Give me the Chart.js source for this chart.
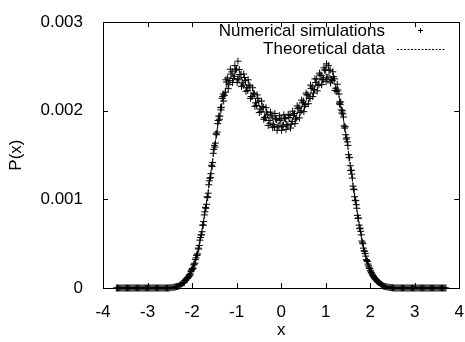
<!DOCTYPE html>
<html>
<head>
<meta charset="utf-8">
<script src="https://cdn.jsdelivr.net/npm/chart.js@4"></script>
<style>
  html, body { margin: 0; padding: 0; background: #fff; overflow: hidden; }
  #wrap { width: 470px; height: 342px; }
</style>
</head>
<body>
<div id="wrap"><canvas id="chart" width="470" height="342"></canvas></div>
<script>
// simulated P(x) samples, run 1
const simX = [
  -3.70,-3.65,-3.60,-3.55,-3.50,-3.45,-3.40,-3.35,-3.30,-3.25,-3.20,-3.15,-3.10,-3.05,-3.00,-2.95,-2.90,-2.85,-2.80,-2.75,-2.70,-2.65,-2.60,-2.55,
  -2.50,-2.45,-2.40,-2.35,-2.30,-2.25,-2.20,-2.15,-2.10,-2.05,-2.00,-1.95,-1.90,-1.85,-1.80,-1.75,-1.70,-1.65,-1.60,-1.55,-1.50,-1.45,-1.40,-1.35,-1.30,-1.25,
  -1.20,-1.15,-1.10,-1.05,-1.00,-0.95,-0.90,-0.85,-0.80,-0.75,-0.70,-0.65,-0.60,-0.55,-0.50,-0.45,-0.40,-0.35,-0.30,-0.25,-0.20,-0.15,-0.10,-0.05,
  0.00,
  0.05,0.10,0.15,0.20,0.25,0.30,0.35,0.40,0.45,0.50,0.55,0.60,0.65,0.70,0.75,0.80,0.85,0.90,0.95,1.00,1.05,1.10,1.15,1.20,1.25,
  1.30,1.35,1.40,1.45,1.50,1.55,1.60,1.65,1.70,1.75,1.80,1.85,1.90,1.95,2.00,2.05,2.10,2.15,2.20,2.25,2.30,2.35,2.40,2.45,2.50,
  2.55,2.60,2.65,2.70,2.75,2.80,2.85,2.90,2.95,3.00,3.05,3.10,3.15,3.20,3.25,3.30,3.35,3.40,3.45,3.50,3.55,3.60,3.65,3.70
];
const simY = [
  0,0,0,0,0,0,0,0,0,0,0,0,0,0,0,0,0,0,0,0,0,0,0,0,
  0.000003,0.000005,0.00001,0.000015,0.00002,0.00004,0.00006,0.00009,0.00011,0.00014,0.00021,0.00027,0.00037,0.00044,0.00060,0.00071,0.00091,0.00102,0.00124,0.00137,0.00161,0.00173,0.00194,0.00201,0.00219,0.00221,
  0.00237,0.00234,0.00244,0.00239,0.00247,0.00236,0.00241,0.00229,0.00234,0.00223,0.00228,0.00216,0.00219,0.00206,0.00211,0.00199,0.00204,0.00192,0.00196,0.00186,0.00193,0.00182,0.00190,0.00183,
  0.00191,
  0.00184,0.00191,0.00183,0.00195,0.00188,0.00197,0.00192,0.00204,0.00200,0.00211,0.00207,0.00218,0.00214,0.00227,0.00224,0.00236,0.00230,0.00240,0.00235,0.00246,0.00238,0.00246,0.00234,0.00236,0.00222,
  0.00219,0.00201,0.00193,0.00173,0.00161,0.00138,0.00124,0.00103,0.00090,0.00071,0.00060,0.00045,0.00036,0.00027,0.00020,0.00015,0.00011,0.00008,0.00006,0.00004,0.00002,0.000015,0.00001,0.000005,0.000003,
  0,0,0,0,0,0,0,0,0,0,0,0,0,0,0,0,0,0,0,0,0,0,0,0
];

// run 2 (half-step positions)
const simX2 = [
  -3.675,-3.625,-3.575,-3.525,-3.475,-3.425,-3.375,-3.325,-3.275,-3.225,-3.175,-3.125,-3.075,-3.025,-2.975,-2.925,-2.875,-2.825,-2.775,-2.725,-2.675,-2.625,-2.575,-2.525,
  -2.475,-2.425,-2.375,-2.325,-2.275,-2.225,-2.175,-2.125,-2.075,-2.025,-1.975,-1.925,-1.875,-1.825,-1.775,-1.725,-1.675,-1.625,-1.575,-1.525,
  -1.475,-1.425,-1.375,-1.325,-1.275,-1.225,-1.175,-1.125,-1.075,-1.025,-0.975,-0.925,-0.875,-0.825,-0.775,-0.725,-0.675,-0.625,-0.575,-0.525,
  -0.475,-0.425,-0.375,-0.325,-0.275,-0.225,-0.175,-0.125,-0.075,-0.025,
  0.025,0.075,0.125,0.175,0.225,0.275,0.325,0.375,0.425,0.475,0.525,0.575,0.625,0.675,0.725,0.775,0.825,0.875,0.925,0.975,
  1.025,1.075,1.125,1.175,1.225,1.275,1.325,1.375,1.425,1.475,1.525,1.575,1.625,1.675,1.725,1.775,1.825,1.875,1.925,1.975,
  2.025,2.075,2.125,2.175,2.225,2.275,2.325,2.375,2.425,2.475,
  2.525,2.575,2.625,2.675,2.725,2.775,2.825,2.875,2.925,2.975,3.025,3.075,3.125,3.175,3.225,3.275,3.325,3.375,3.425,3.475,3.525,3.575,3.625,3.675
];
const simY2 = [
  0,0,0,0,0,0,0,0,0,0,0,0,0,0,0,0,0,0,0,0,0,0,0,0,
  0.000004,0.000007,0.000012,0.000018,0.00003,0.00005,0.00006,0.000105,0.00013,0.000185,
  0.000225,0.00032,0.000385,0.00054,0.000635,0.000825,0.000945,0.001165,0.00129,0.00152,
  0.001635,0.001855,0.00194,0.00214,0.002175,0.002325,0.002295,0.002415,0.002365,0.00246,
  0.00235,0.00241,0.002315,0.002375,0.00226,0.00229,0.00216,0.0022,0.00209,0.00214,
  0.00202,0.00205,0.001925,0.001985,0.00189,0.00195,0.001845,0.001915,0.001817,0.001892,
  0.001822,0.001917,0.001845,0.001925,0.00185,0.00195,0.001905,0.002025,0.00198,0.00209,
  0.00205,0.00218,0.00214,0.00225,0.0022,0.00232,0.002285,0.002405,0.00235,0.00246,
  0.00237,0.002455,0.002355,0.002385,0.002255,0.002235,0.00207,0.002,0.001805,0.001695,
  0.00147,0.00133,0.001115,0.000985,0.000785,0.000675,0.00051,0.000415,0.00031,0.000235,
  0.000175,0.00013,0.000095,0.00007,0.00005,0.00003,0.000018,0.000012,0.000007,0.000004,
  0,0,0,0,0,0,0,0,0,0,0,0,0,0,0,0,0,0,0,0,0,0,0,0
];

// run 3 (noisier samples around the two humps)
const simX3 = [
  -1.29,-1.24,-1.19,-1.14,-1.09,-1.04,-0.99,-0.94,-0.89,-0.84,-0.79,-0.74,-0.69,-0.64,-0.59,-0.54,-0.49,-0.44,-0.39,-0.34,-0.29,-0.24,-0.19,-0.14,-0.09,-0.04,
  0.01,0.06,0.11,0.16,0.21,0.26,0.31,0.36,0.41,0.46,0.51,0.56,0.61,0.66,0.71,0.76,0.81,0.86,0.91,0.96,1.01,1.06,1.11,1.16,1.21,1.26,1.31,
  -0.97,1.02
];
const simY3 = [
  0.00211,0.00235,0.00225,0.00247,0.00232,0.00251,0.00232,0.002465,0.002275,0.002415,0.00222,0.00235,0.00214,0.00226,0.00205,0.00218,0.00198,0.00211,0.001905,0.002035,0.001835,0.001985,0.00181,0.00197,0.00178,0.001945,
  0.00178,0.001955,0.00179,0.00196,0.001805,0.001995,0.001855,0.002055,0.00192,0.00212,0.00199,0.0022,0.00208,0.00229,0.00216,0.00236,0.002225,0.002425,0.002295,0.002485,0.00233,0.00251,0.002315,0.00244,0.00223,0.0023,0.00208,
  0.00256,0.00253
];

// run 4 (extra samples on the steep flanks)
const simX4 = [
  -2.1875,-2.1625,-2.1375,-2.1125,-2.0875,-2.0625,-2.0375,-2.0125,-1.9875,-1.9625,-1.9375,-1.9125,-1.8875,-1.8625,-1.8375,-1.8125,-1.7875,-1.7625,
  -1.7375,-1.7125,-1.6875,-1.6625,-1.6375,-1.6125,-1.5875,-1.5625,-1.5375,-1.5125,-1.4875,-1.4625,-1.4375,-1.4125,-1.3875,-1.3625,-1.3375,-1.3125,
  1.3125,1.3375,1.3625,1.3875,1.4125,1.4375,1.4625,1.4875,1.5125,1.5375,1.5625,1.5875,1.6125,1.6375,1.6625,1.6875,1.7125,1.7375,
  1.7625,1.7875,1.8125,1.8375,1.8625,1.8875,1.9125,1.9375,1.9625,1.9875,2.0125,2.0375,2.0625,2.0875,2.1125,2.1375,2.1625,2.1875
];
const simY4 = [
  0.000065,0.000085,0.00009,0.00011,0.00012,0.00015,0.00016,0.0002,0.00022,0.00026,0.00028,0.00034,0.00037,0.00045,0.00048,0.00057,0.0006,0.00071,
  0.00075,0.00086,0.0009,0.00103,0.00107,0.00121,0.001245,0.001385,0.001415,0.001565,0.00159,0.00174,0.00176,0.00189,0.001905,0.002035,0.00204,0.00216,
  0.0021,0.0021,0.001975,0.001965,0.00183,0.00182,0.00168,0.00165,0.001505,0.001475,0.001325,0.001285,0.00115,0.00111,0.00099,0.00094,0.00082,0.00079,
  0.00067,0.00064,0.00053,0.0005,0.00042,0.00039,0.00032,0.0003,0.00025,0.00022,0.00019,0.00016,0.00014,0.00012,0.0001,0.00009,0.000075,0.000065
];

// theoretical curve
const thX = [
  -3.7,-3.6,-3.5,-3.4,-3.3,-3.2,-3.1,-3.0,-2.9,-2.8,-2.7,-2.6,
  -2.5,-2.4,-2.3,-2.2,-2.1,-2.0,-1.9,-1.8,-1.7,-1.6,-1.5,-1.4,-1.3,-1.2,-1.1,-1.0,-0.9,-0.8,-0.7,-0.6,-0.5,-0.4,-0.3,-0.2,-0.1,
  0.0,
  0.1,0.2,0.3,0.4,0.5,0.6,0.7,0.8,0.9,1.0,1.1,1.2,1.3,1.4,1.5,1.6,1.7,1.8,1.9,2.0,2.1,2.2,2.3,2.4,2.5,
  2.6,2.7,2.8,2.9,3.0,3.1,3.2,3.3,3.4,3.5,3.6,3.7
];
const thY = [
  0,0,0,0,0,0,0,0,0,0,0,0,
  0.000003,0.00001,0.00002,0.00006,0.00011,0.00020,0.00035,0.00058,0.00088,0.00122,0.00158,0.00190,0.00216,0.00232,0.00240,0.00241,0.00237,0.00231,0.00223,0.00215,0.00207,0.00199,0.00193,0.00189,0.00187,
  0.00186,
  0.00187,0.00189,0.00193,0.00199,0.00207,0.00215,0.00223,0.00231,0.00237,0.00241,0.00240,0.00232,0.00216,0.00190,0.00158,0.00122,0.00088,0.00058,0.00035,0.00020,0.00011,0.00006,0.00002,0.00001,0.000003,
  0,0,0,0,0,0,0,0,0,0,0,0
];

const xTickLabels = ['-4', '-3', '-2', '-1', '0', '1', '2', '3', '4'];
const yTickLabels = ['0', '0.001', '0.002', '0.003'];
const seriesNames = ['Numerical simulations', 'Theoretical data'];

const FONT = "'Liberation Sans', Arial, Helvetica, sans-serif";
const FSIZE = 17;

const toPts = (xs, ys) => xs.map((x, i) => ({ x: x, y: ys[i] }));
const simPoints = [
  ...toPts(simX, simY), ...toPts(simX2, simY2),
  ...toPts(simX3, simY3), ...toPts(simX4, simY4)
];

// gnuplot-like frame with inward ticks
const framePlugin = {
  id: 'frame',
  beforeDatasetsDraw(chart) {
    const { ctx, chartArea: a, scales } = chart;
    ctx.save();
    ctx.strokeStyle = '#000';
    ctx.lineWidth = 1;
    ctx.strokeRect(Math.round(a.left) + 0.5, Math.round(a.top) + 0.5,
      Math.round(a.right - a.left), Math.round(a.bottom - a.top));
    const tl = 5;
    ctx.beginPath();
    scales.x.ticks.forEach(t => {
      const px = Math.round(scales.x.getPixelForValue(t.value)) + 0.5;
      ctx.moveTo(px, a.bottom); ctx.lineTo(px, a.bottom - tl);
      ctx.moveTo(px, a.top); ctx.lineTo(px, a.top + tl);
    });
    scales.y.ticks.forEach(t => {
      const py = Math.round(scales.y.getPixelForValue(t.value)) + 0.5;
      ctx.moveTo(a.left, py); ctx.lineTo(a.left + tl, py);
      ctx.moveTo(a.right, py); ctx.lineTo(a.right - tl, py);
    });
    ctx.stroke();
    ctx.restore();
  }
};

// key in the top right corner, text right-aligned, sample on the right
const keyPlugin = {
  id: 'key',
  afterDraw(chart) {
    const { ctx } = chart;
    ctx.save();
    ctx.font = FSIZE + 'px ' + FONT;
    ctx.fillStyle = '#000';
    ctx.textAlign = 'right';
    ctx.textBaseline = 'middle';
    ctx.fillText(seriesNames[0], 385, 31);
    ctx.fillText(seriesNames[1], 385, 49);
    ctx.strokeStyle = '#000';
    ctx.lineWidth = 1;
    ctx.beginPath();
    ctx.moveTo(418, 30.5); ctx.lineTo(423, 30.5);
    ctx.moveTo(420.5, 28); ctx.lineTo(420.5, 33);
    ctx.stroke();
    ctx.setLineDash([2, 1.5]);
    ctx.beginPath();
    ctx.moveTo(397, 49.5); ctx.lineTo(445, 49.5);
    ctx.stroke();
    ctx.restore();
  }
};

new Chart(document.getElementById('chart'), {
  type: 'scatter',
  data: {
    datasets: [
      {
        label: seriesNames[0],
        data: simPoints,
        pointStyle: 'cross',
        pointRadius: 3.5,
        pointBorderWidth: 1,
        borderColor: '#000',
        backgroundColor: '#000',
        showLine: false,
        clip: false,
        order: 2
      },
      {
        label: seriesNames[1],
        data: toPts(thX, thY),
        showLine: true,
        pointRadius: 0,
        borderColor: '#000',
        borderWidth: 1,
        borderDash: [2, 1.5],
        tension: 0,
        order: 1
      }
    ]
  },
  options: {
    responsive: false,
    animation: false,
    devicePixelRatio: 1,
    layout: { padding: { left: 6, right: 4, top: 16, bottom: 1 } },
    plugins: {
      legend: { display: false },
      tooltip: { enabled: false }
    },
    scales: {
      x: {
        type: 'linear',
        min: -4,
        max: 4,
        grid: { display: false },
        border: { display: false },
        ticks: {
          stepSize: 1,
          padding: 6,
          color: '#000',
          font: { family: FONT, size: FSIZE },
          maxRotation: 0,
          callback: (v, i) => xTickLabels[i]
        },
        title: {
          display: true,
          text: 'x',
          color: '#000',
          padding: 0,
          font: { family: FONT, size: FSIZE }
        },
        afterFit: s => { s.height = 53; }
      },
      y: {
        min: 0,
        max: 0.003,
        grid: { display: false },
        border: { display: false },
        ticks: {
          stepSize: 0.001,
          padding: 12,
          color: '#000',
          font: { family: FONT, size: FSIZE },
          callback: (v, i) => yTickLabels[i]
        },
        title: {
          display: true,
          text: 'P(x)',
          color: '#000',
          padding: 0,
          font: { family: FONT, size: FSIZE }
        },
        afterFit: s => { s.width = 97; }
      }
    }
  },
  plugins: [framePlugin, keyPlugin]
});
</script>
</body>
</html>
